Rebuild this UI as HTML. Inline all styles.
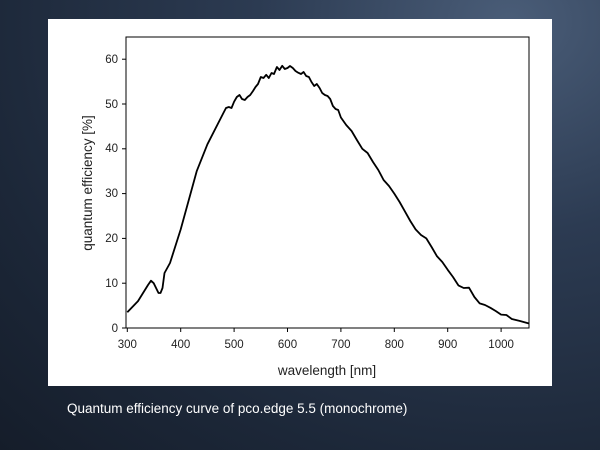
<!DOCTYPE html>
<html><head><style>
html,body{margin:0;padding:0;}
body{width:600px;height:450px;overflow:hidden;background:radial-gradient(ellipse at 85% 5%,#4a5d78 0%,#2c3b52 35%,#1c2738 75%,#151d2a 100%);position:relative;font-family:"Liberation Sans",sans-serif;}
.cap{position:absolute;left:67px;top:401px;color:#fff;font-size:13.5px;}
</style></head><body>
<svg width="600" height="450" style="position:absolute;left:0;top:0">
<rect x="48" y="19" width="504" height="367" fill="#fff"/>
<rect x="126" y="37" width="403" height="291" fill="none" stroke="#000" stroke-width="1"/>
<g font-size="11.5" fill="#222" font-family="Liberation Sans">
<g stroke="#000">
<line x1="122" y1="328" x2="126" y2="328"/><line x1="122" y1="283.2" x2="126" y2="283.2"/><line x1="122" y1="238.4" x2="126" y2="238.4"/><line x1="122" y1="193.6" x2="126" y2="193.6"/><line x1="122" y1="148.8" x2="126" y2="148.8"/><line x1="122" y1="104" x2="126" y2="104"/><line x1="122" y1="59.2" x2="126" y2="59.2"/>
<line x1="127.3" y1="328" x2="127.3" y2="332"/><line x1="180.7" y1="328" x2="180.7" y2="332"/><line x1="234.1" y1="328" x2="234.1" y2="332"/><line x1="287.5" y1="328" x2="287.5" y2="332"/><line x1="340.9" y1="328" x2="340.9" y2="332"/><line x1="394.3" y1="328" x2="394.3" y2="332"/><line x1="447.7" y1="328" x2="447.7" y2="332"/><line x1="501.1" y1="328" x2="501.1" y2="332"/>
</g>
<g text-anchor="end"><text x="118" y="332">0</text><text x="118" y="287">10</text><text x="118" y="242">20</text><text x="118" y="197">30</text><text x="118" y="152">40</text><text x="118" y="108">50</text><text x="118" y="63">60</text></g>
<g text-anchor="middle"><text x="127.3" y="348">300</text><text x="180.7" y="348">400</text><text x="234.1" y="348">500</text><text x="287.5" y="348">600</text><text x="340.9" y="348">700</text><text x="394.3" y="348">800</text><text x="447.7" y="348">900</text><text x="501.1" y="348">1000</text></g>
<text x="327" y="375" text-anchor="middle" font-size="13.5">wavelength [nm]</text>
<text transform="translate(92,183) rotate(-90)" text-anchor="middle" font-size="13.5">quantum efficiency [%]</text>
</g>
<polyline fill="none" stroke="#000" stroke-width="1.8" stroke-linejoin="round" points="
127.3,312.3 138,301.1 148,285 151,280.7 153.7,283.2 158.5,293 160.5,293 162.5,288 164.5,273 170,263 180.7,229.4 196.7,171.2 207.4,144.3 223.4,113 226,108 228.8,107 231.5,108 234.1,101.7 236.8,97 239.5,95 242,99 244.8,100 247.5,97 250.2,95 253,91 255.5,87 258,84 260.8,77 263.5,78 266.2,74.8 268.8,78 271.5,73 274,74 276.9,67 279.5,70 282.2,65.8 284.8,69 287.5,68 290,66 292.8,68 295.5,71 298.2,72.7 301,74 303.6,72 306.2,76 308.9,77 311.5,82 314.2,86 316.8,84 319.6,88 322.2,93 324.9,95 327.6,96 330.2,99 332.9,106 335.6,109 338.2,110 340.9,117.5 346.2,125 351.6,131 356.9,140 362.3,148.8 367.6,153 373,162 378.3,170 383.6,180 389,186 394.3,193.6 399.6,202 405,211.6 410.3,221 415.6,229.4 421,235 426.3,238.4 431.6,247 437,256.3 442.3,262 447.7,269.8 453,277 458.4,285.4 463.7,288 469,287.7 474.4,297 479.7,303.4 485,305 490.4,307.8 495.7,311 501.1,314.6 506.4,315 511.8,319 520,321 529,323.5"/>
</svg>
<div class="cap">Quantum efficiency curve of pco.edge 5.5 (monochrome)</div>
</body></html>
